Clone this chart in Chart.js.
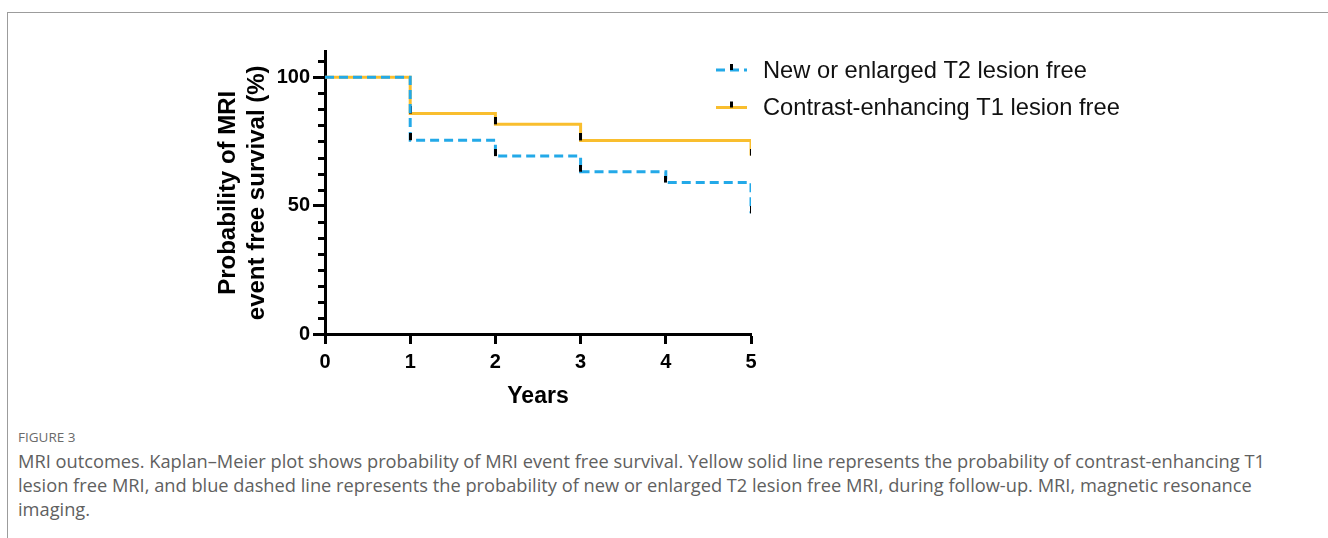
<!DOCTYPE html>
<html><head><meta charset="utf-8">
<script src="https://cdn.jsdelivr.net/npm/chart.js@4.4.0/dist/chart.umd.min.js"></script>
<style>
html,body{margin:0;padding:0;background:#fff;width:1328px;height:538px;overflow:hidden;}
#frame{position:absolute;left:7px;top:12px;width:1400px;height:600px;border-left:1px solid #9c9c9c;border-top:1px solid #9c9c9c;}
#wrap{position:absolute;left:0;top:0;width:1328px;height:420px;}
#fig{position:absolute;left:18px;top:428px;line-height:18px;font-family:'Open Sans',sans-serif;font-size:13.5px;color:#6a6a6a;white-space:nowrap;}
.cap{position:absolute;left:18px;line-height:24px;font-family:'Open Sans',sans-serif;font-size:17px;color:#606060;white-space:nowrap;}
</style></head>
<body>
<div id="frame"></div>
<div id="wrap"><canvas id="c" width="1328" height="420"></canvas></div>
<div id="fig">FIGURE 3</div>
<div class="cap" id="l1" style="top:449px">MRI outcomes. Kaplan–Meier plot shows probability of MRI event free survival. Yellow solid line represents the probability of contrast-enhancing T1</div>
<div class="cap" id="l2" style="top:473px">lesion free MRI, and blue dashed line represents the probability of new or enlarged T2 lesion free MRI, during follow-up. MRI, magnetic resonance</div>
<div class="cap" id="l3" style="top:497px">imaging.</div>
<script>
// ---- data ----
const t2Times = [0, 1, 2, 3, 4, 5];
const t2Surv  = [100, 75.5, 69.3, 63.2, 59.0, 47.0];
const t1Times = [0, 1, 2, 3, 5];
const t1Surv  = [100, 85.9, 81.7, 75.4, 69.5];
const t2CensorTimes = [1, 2, 3, 4, 5];
const t2CensorSurv  = [75.5, 69.3, 63.2, 59.0, 47.0];
const t1CensorTimes = [1, 2, 3, 5];
const t1CensorSurv  = [85.9, 81.7, 75.4, 69.5];
const xTickValues = [0, 1, 2, 3, 4, 5];
const yMajorTicks = [0, 50, 100];
const yMinorTicks = [6.25, 12.5, 18.75, 25, 31.25, 37.5, 43.75, 56.25, 62.5, 68.75, 75, 81.25, 87.5, 93.75, 106.25];
const seriesNames = ['New or enlarged T2 lesion free', 'Contrast-enhancing T1 lesion free'];
const yTitle = ['Probability of MRI', 'event free survival (%)'];
const xTitle = 'Years';

const BLUE = '#23A9E8', YELLOW = '#F9BE2E';
const FONT = "'Liberation Sans', Arial, sans-serif";

// caption fitting
(function(){
  const l1 = document.getElementById('l1');
  const w = l1.getBoundingClientRect().width;
  const fs = 17 * 1248 / w;
  document.querySelectorAll('.cap').forEach(e => e.style.fontSize = fs + 'px');
})();

const pts = (xs, ys) => xs.map((x, i) => ({x, y: ys[i]}));

// censor mark: drawn from the level upward
const mark = document.createElement('canvas');
mark.width = 3; mark.height = 14;
(function(){ const c = mark.getContext('2d'); c.fillStyle = '#000'; c.fillRect(0, 0, 3, 7); })();

const extras = {
  id: 'extras',
  afterDraw(chart) {
    const ctx = chart.ctx, ys = chart.scales.y, ca = chart.chartArea;
    ctx.save();
    ctx.strokeStyle = '#000'; ctx.lineWidth = 3;
    yMinorTicks.forEach(v => {
      const y = Math.round(ys.getPixelForValue(v)) + 0.5;
      ctx.beginPath(); ctx.moveTo(ca.left - 7, y); ctx.lineTo(ca.left - 1, y); ctx.stroke();
    });
    // legend
    const rows = [{y: 70, color: BLUE, dash: [9, 5]}, {y: 107.5, color: YELLOW, dash: []}];
    rows.forEach((r, i) => {
      ctx.setLineDash(r.dash);
      ctx.strokeStyle = r.color; ctx.lineWidth = 3;
      ctx.beginPath(); ctx.moveTo(716, r.y); ctx.lineTo(747, r.y); ctx.stroke();
      ctx.setLineDash([]);
      ctx.fillStyle = '#000';
      ctx.fillRect(730, r.y - 6, 3, 6);
      ctx.font = '23.7px ' + FONT;
      ctx.fillStyle = '#111';
      ctx.textBaseline = 'middle';
      ctx.fillText(seriesNames[i], 763, r.y + 1);
    });
    ctx.restore();
  }
};

new Chart(document.getElementById('c'), {
  type: 'scatter',
  data: {
    datasets: [
      {label: 'T2 censor', data: pts(t2CensorTimes, t2CensorSurv), pointStyle: mark, pointRadius: 7, showLine: false},
      {label: seriesNames[0], data: pts(t2Times, t2Surv), showLine: true, stepped: true, borderColor: BLUE, borderWidth: 3, borderDash: [9, 5], pointRadius: 0, fill: false},
      {label: 'T1 censor', data: pts(t1CensorTimes, t1CensorSurv), pointStyle: mark, pointRadius: 7, showLine: false},
      {label: seriesNames[1], data: pts(t1Times, t1Surv), showLine: true, stepped: true, borderColor: YELLOW, borderWidth: 3, pointRadius: 0, fill: false}
    ]
  },
  options: {
    responsive: false, animation: false, devicePixelRatio: 1,
    layout: {padding: {left: 200, top: 51.6, right: 577, bottom: 0}},
    plugins: {legend: {display: false}, tooltip: {enabled: false}},
    scales: {
      x: {
        type: 'linear', min: 0, max: 5,
        afterBuildTicks: s => { s.ticks = xTickValues.map(v => ({value: v})); },
        afterFit: s => { s.height = 86; },
        border: {display: true, color: '#000', width: 3},
        grid: {drawOnChartArea: false, drawTicks: true, tickLength: 10, tickWidth: 3, tickColor: '#000'},
        ticks: {color: '#000', padding: 6, autoSkip: false, font: {family: FONT, size: 20, weight: 'bold'}, maxRotation: 0},
        title: {display: true, text: xTitle, color: '#000', font: {family: FONT, size: 23, weight: 'bold', lineHeight: '29px'}, padding: {top: 0, bottom: 8.5}}
      },
      y: {
        type: 'linear', min: 0, max: 110,
        afterBuildTicks: s => { s.ticks = yMajorTicks.map(v => ({value: v})); },
        afterFit: s => { s.width = 125; },
        border: {display: true, color: '#000', width: 3},
        grid: {drawOnChartArea: false, drawTicks: true, tickLength: 12, tickWidth: 3, tickColor: '#000'},
        ticks: {color: '#000', padding: 3, autoSkip: false, font: {family: FONT, size: 20, weight: 'bold'}},
        title: {display: true, text: yTitle, color: '#000', font: {family: FONT, size: 24, weight: 'bold', lineHeight: '29px'}, padding: {top: 13.5, bottom: 0}}
      }
    }
  },
  plugins: [extras]
});
</script>
</body></html>
